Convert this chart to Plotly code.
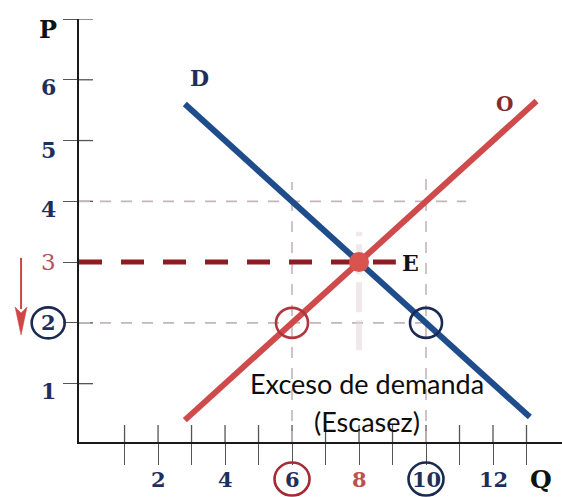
import plotly.graph_objects as go

# ---- data -------------------------------------------------------------
q_ticks = list(range(1, 14))          # tick marks on the Q axis
p_ticks = list(range(1, 8))           # tick marks on the P axis
q_labels = ["2", "4", "6", "8", "10", "12"]
q_label_vals = [2, 4, 6, 8, 10, 12]
p_labels = ["1", "2", "3", "4", "5", "6"]
p_label_vals = [1, 2, 3, 4, 5, 6]

demand_q = [2.8, 13.1]                # D: P = 7 - 0.5 Q
demand_p = [5.6, 0.45]
supply_q = [2.8, 13.3]                # O: P = 0.5 Q - 1
supply_p = [0.4, 5.65]

eq_q, eq_p = 8, 3                     # equilibrium E
low_p = 2                             # controlled (lower) price
q_offered, q_demanded = 6, 10         # quantities at the lower price
ref_p = 4
ref_p_end = 11.2
guide_top = {6: 4.32, 10: 4.49}

# ---- styling ----------------------------------------------------------
XR = [-0.36, 14.06]
YR = [0.04, 7.0]
NAVY = "#1f2f5c"
BLUE = "#1f4d8c"
RED = "#cf4a4a"
DARKRED = "#8e1c22"
GRID = "#c6b5b8"
TICK = "#555555"
SERIF = "DejaVu Serif"

W, H = 562, 497
M = dict(l=79, r=0, t=19, b=55)
px_per_p = (H - M["t"] - M["b"]) / (YR[1] - YR[0])
px_per_q = (W - M["l"] - M["r"]) / (XR[1] - XR[0])

lab_x = -1.28       # column of the P labels
lab_y = -0.57       # row of the Q labels

fig = go.Figure()


def px(v):
    return (v - XR[0]) / (XR[1] - XR[0])


def py(v):
    return (v - YR[0]) / (YR[1] - YR[0])


def seg(xs, ys, color, width, dash=None):
    fig.add_trace(go.Scatter(x=xs, y=ys, mode="lines",
                             line=dict(color=color, width=width, dash=dash),
                             hoverinfo="skip", showlegend=False))


def label(text, q, p, color, size, family=SERIF, weight="bold", dy=0):
    fig.add_annotation(xref="paper", yref="paper", x=px(q), y=py(p),
                       yshift=dy, xanchor="center", yanchor="middle",
                       showarrow=False, text=text,
                       font=dict(family=family, size=size, color=color,
                                 weight=weight))


def ring(q, p, color, d=32):
    fig.add_shape(type="circle", xref="paper", yref="paper",
                  xsizemode="pixel", ysizemode="pixel",
                  xanchor=px(q), yanchor=py(p),
                  x0=-d / 2, x1=d / 2, y0=-d / 2 + 1, y1=d / 2 - 1,
                  line=dict(color=color, width=2.6))


# inner halves of the axis ticks (the outer halves are the axes' own ticks)
in_q = 17 / px_per_p
in_p = 14 / px_per_q
tx, ty = [], []
for q in q_ticks:
    tx += [q, q, None]
    ty += [YR[0], YR[0] + in_q, None]
for p in p_ticks:
    tx += [XR[0], XR[0] + in_p, None]
    ty += [p, p, None]
seg(tx, ty, TICK, 1.3)

# dashed guide lines
seg([XR[0], ref_p_end], [ref_p, ref_p], GRID, 1.6, "11px,10px")
seg([XR[0], q_demanded], [low_p, low_p], GRID, 1.6, "11px,10px")
for q in (q_offered, q_demanded):
    seg([q, q], [YR[0], guide_top[q]], GRID, 1.6, "11px,10px")
seg([eq_q, eq_q], [1.55, 3.5], "rgba(228,214,216,0.55)", 6, "30px,8px")

# equilibrium price line
seg([XR[0], 9.1], [eq_p, eq_p], DARKRED, 5, "23px,19px")

# demand and supply
seg(demand_q, demand_p, BLUE, 6)
seg(supply_q, supply_p, RED, 6)

# equilibrium point
fig.add_trace(go.Scatter(x=[eq_q], y=[eq_p], mode="markers",
                         marker=dict(size=20, color="#d9534f"),
                         hoverinfo="skip", showlegend=False))

# rings where the lower price meets each curve
ring(q_offered, low_p, "#b0353c")
ring(q_demanded, low_p, "#1a2a50")

# tick labels
q_col = [NAVY, NAVY, NAVY, "#c0504d", NAVY, NAVY]
for t, v, c in zip(q_labels, q_label_vals, q_col):
    label(t, v, lab_y, c, 21)
p_col = [NAVY, NAVY, "#b5535c", NAVY, NAVY, NAVY]
p_size = [22, 21, 23, 22, 22, 22]
p_weight = ["bold", "bold", "normal", "bold", "bold", "bold"]
p_shift = [-7, 0, 0, -8, -9, -7]
for t, v, c, s, w, d in zip(p_labels, p_label_vals, p_col, p_size, p_weight, p_shift):
    label(t, lab_x, v, c, s, weight=w, dy=d)

# rings around the labels of the lower price and its quantities
ring(q_offered, lab_y, "#a52a35", 35)
ring(q_demanded, lab_y, "#1a2a50", 35)
ring(lab_x, low_p, "#1a2a50", 33)

# axis names and curve names
label("P", lab_x, 6.83, "#111111", 24)
label("Q", 13.43, lab_y, "#111111", 25)
label("D", 3.25, 6.03, NAVY, 22)
label("O", 12.33, 5.6, "#8b2a2a", 20)
label("E", 9.55, 2.98, "#111111", 22)

# shortage caption
label("Exceso de demanda", 8.24, 1.01, "#0d0d0d", 27, "Lato", "normal")
label("(Escasez)", 8.24, 0.38, "#0d0d0d", 27, "Lato", "normal")

# downward arrow next to the price axis: shaft plus a long narrow head
arrow_q, arrow_top, arrow_tip = -2.09, 3.07, 1.8
head_len, head_half = 28, 6
shaft = (arrow_top - arrow_tip) * px_per_p
ARROW = "#d04545"
fig.add_shape(type="line", xref="paper", yref="paper",
              xsizemode="pixel", ysizemode="pixel",
              xanchor=px(arrow_q), yanchor=py(arrow_tip),
              x0=0, x1=0, y0=head_len - 2, y1=shaft,
              line=dict(color=ARROW, width=2))
fig.add_shape(type="path", xref="paper", yref="paper",
              xsizemode="pixel", ysizemode="pixel",
              xanchor=px(arrow_q), yanchor=py(arrow_tip),
              path=f"M {-head_half},{head_len} L 0,{head_len - 6} L {head_half},{head_len} L 0,0 Z",
              fillcolor=ARROW, line=dict(color=ARROW, width=0.5))

axis_common = dict(showgrid=False, zeroline=False, showticklabels=False,
                   fixedrange=True)
fig.update_layout(
    width=W, height=H, margin=M,
    paper_bgcolor="white", plot_bgcolor="white",
    xaxis=dict(range=XR, tickvals=q_ticks, ticks="outside", ticklen=21,
               tickwidth=1.3, tickcolor=TICK, showline=True,
               linecolor="#1a1a1a", linewidth=2, **axis_common),
    yaxis=dict(range=YR, tickvals=p_ticks, ticks="outside", ticklen=14,
               tickwidth=1.3, tickcolor=TICK, showline=True,
               linecolor="#1a1a1a", linewidth=2, **axis_common),
)

fig.write_html("out.html")
